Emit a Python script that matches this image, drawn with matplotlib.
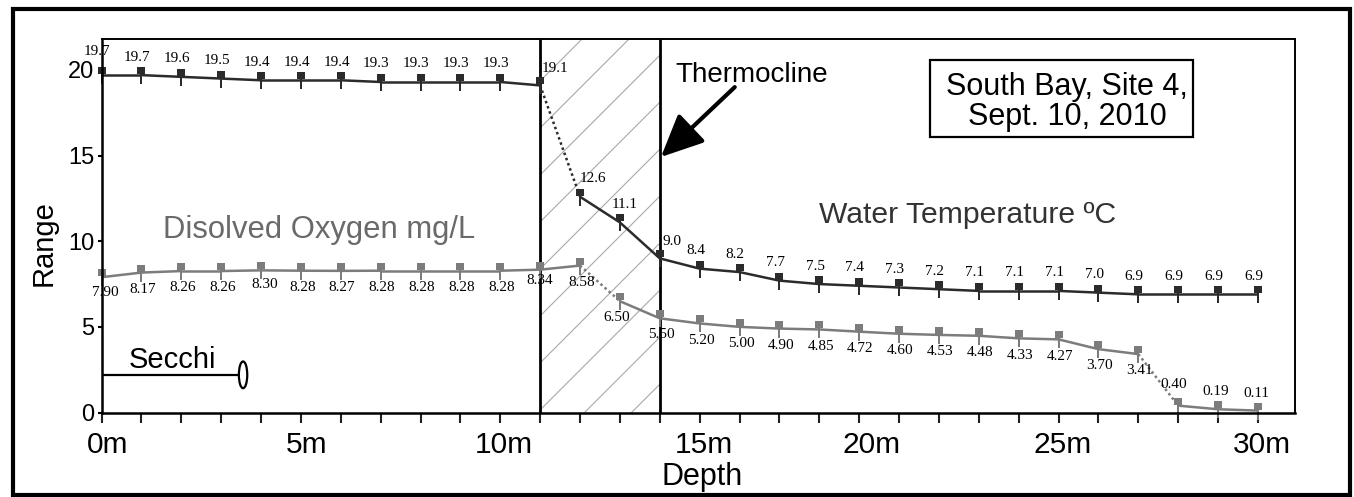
import numpy as np
import matplotlib
matplotlib.use("Agg")
import matplotlib.pyplot as plt
from matplotlib.path import Path
from matplotlib.patches import Rectangle, Ellipse, FancyArrowPatch

# ---------------- data ----------------
depth_m = [0, 1, 2, 3, 4, 5, 6, 7, 8, 9, 10, 11, 12, 13, 14,
           15, 16, 17, 18, 19, 20, 21, 22, 23, 24, 25, 26, 27, 28, 29]
water_temp_c = [19.7, 19.7, 19.6, 19.5, 19.4, 19.4, 19.4, 19.3, 19.3, 19.3,
                19.3, 19.1, 12.6, 11.1, 9.0, 8.4, 8.2, 7.7, 7.5, 7.4,
                7.3, 7.2, 7.1, 7.1, 7.1, 7.0, 6.9, 6.9, 6.9, 6.9]
temp_labels = ["19.7", "19.7", "19.6", "19.5", "19.4", "19.4", "19.4", "19.3", "19.3", "19.3",
               "19.3", "19.1", "12.6", "11.1", "9.0", "8.4", "8.2", "7.7", "7.5", "7.4",
               "7.3", "7.2", "7.1", "7.1", "7.1", "7.0", "6.9", "6.9", "6.9", "6.9"]
dissolved_oxygen = [7.90, 8.17, 8.26, 8.26, 8.30, 8.28, 8.27, 8.28, 8.28, 8.28,
                    8.28, 8.34, 8.58, 6.50, 5.50, 5.20, 5.00, 4.90, 4.85, 4.72,
                    4.60, 4.53, 4.48, 4.33, 4.27, 3.70, 3.41, 0.40, 0.19, 0.11]
do_labels = ["7.90", "8.17", "8.26", "8.26", "8.30", "8.28", "8.27", "8.28", "8.28", "8.28",
             "8.28", "8.34", "8.58", "6.50", "5.50", "5.20", "5.00", "4.90", "4.85", "4.72",
             "4.60", "4.53", "4.48", "4.33", "4.27", "3.70", "3.41", "0.40", "0.19", "0.11"]
thermocline_start = 11
thermocline_end = 14
secchi_depth = 3.55
x_tick_labels = ["0m", "5m", "10m", "15m", "20m", "25m", "30m"]
x_tick_label_pos = [0.15, 5.15, 10.1, 15.1, 19.3, 24.1, 29.1]
y_ticks = [0, 5, 10, 15, 20]

# ---------------- style ----------------
SANS = "Liberation Sans"
SERIF = "Liberation Serif"
TEMP_COLOR = "#2b2b2b"
DO_COLOR = "#7c7c7c"
W, H = 1354, 497

temp_dotted = {11}
do_dotted = {12, 26}
light_ticks = {0, 2, 4, 5, 7, 9, 11, 13, 16, 18, 21, 23, 26, 28}

# label offsets in points (dx, dy)
temp_default_off = (-3, 13)
temp_off = {0: (-3, 17), 11: (11, 12), 12: (9, 13), 13: (3.5, 13), 14: (9, 12)}
do_default_off = (1, -12)
do_off = {0: (2.5, -11), 4: (3, -10.5), 11: (0, -8), 13: (-2, -12),
          27: (-3, 15), 28: (-2, 12.5), 29: (-1, 12.5)}

# T-shaped marker (cap above the point, stem below)
t_verts = [(-3.8, 6.5), (3.8, 6.5), (3.8, 1), (1.1, 1), (1.1, -8), (-1.1, -8), (-1.1, 1), (-3.8, 1), (-3.8, 6.5)]
t_codes = [Path.MOVETO] + [Path.LINETO] * 7 + [Path.CLOSEPOLY]
t_marker = Path(t_verts, t_codes)

fig = plt.figure(figsize=(W / 100, H / 100), dpi=100)
ax_left, ax_right, ax_top, ax_bottom = 101.5, 1295, 39, 412.5
ax = fig.add_axes([ax_left / W, 1 - ax_bottom / H, (ax_right - ax_left) / W, (ax_bottom - ax_top) / H])
xmin, xmax, ymin, ymax = 0, 29.93, 0, 21.81
ax.set_xlim(xmin, xmax)
ax.set_ylim(ymin, ymax)

# outer frame
fig.patches.append(Rectangle((13 / W, 1 - 495 / H), (1350 - 13) / W, (495 - 9) / H,
                             transform=fig.transFigure, fill=False, edgecolor="black",
                             linewidth=3, zorder=0))

# thermocline band with hatching
span = ax.axvspan(thermocline_start, thermocline_end, facecolor="none", edgecolor="none", zorder=0)
px_per_x = (ax_right - ax_left) / (xmax - xmin)
px_per_y = (ax_bottom - ax_top) / (ymax - ymin)
slope = px_per_x / px_per_y
step = 47 / px_per_y
width = thermocline_end - thermocline_start
hx = np.array([thermocline_start, thermocline_end])
for c in np.arange(-slope * width - step * 0.4, ymax + step, step):
    ln, = ax.plot(hx, c + slope * (hx - thermocline_start), color="#a8a8a8", lw=0.8, zorder=0.5)
    ln.set_clip_path(span)
for xv in (thermocline_start, thermocline_end):
    ax.axvline(xv, color="black", lw=2, zorder=2)

# series lines
def draw_series(y, color, dotted):
    for i in range(len(depth_m) - 1):
        ls = (0, (1, 1.2)) if i in dotted else "-"
        ax.plot(depth_m[i:i + 2], y[i:i + 2], color=color, lw=1.8, ls=ls, zorder=3,
                solid_capstyle="butt")
    ax.plot(depth_m, y, ls="none", marker=t_marker, markersize=13.5, markeredgewidth=0,
            color=color, zorder=4, clip_on=False)

draw_series(water_temp_c, TEMP_COLOR, temp_dotted)
draw_series(dissolved_oxygen, DO_COLOR, do_dotted)

for i, (x, y, s) in enumerate(zip(depth_m, water_temp_c, temp_labels)):
    off = temp_off.get(i, temp_default_off)
    ax.annotate(s, (x, y), xytext=off, textcoords="offset points", ha="center", va="center",
                fontsize=11, family=SERIF, color="black", zorder=6, annotation_clip=False)
for i, (x, y, s) in enumerate(zip(depth_m, dissolved_oxygen, do_labels)):
    off = do_off.get(i, do_default_off)
    ax.annotate(s, (x, y), xytext=off, textcoords="offset points", ha="center", va="center",
                fontsize=11, family=SERIF, color="black", zorder=6, annotation_clip=False)

# Secchi
secchi_y = 2.2
ax.plot([0, secchi_depth - 0.1], [secchi_y, secchi_y], color="black", lw=1.6, zorder=3)
ax.add_patch(Ellipse((secchi_depth, secchi_y), width=0.21, height=1.56, facecolor="white",
                     edgecolor="black", lw=1.6, zorder=4))
ax.text(1.77, 2.6, "Secchi", fontsize=21, family=SANS, ha="center", va="baseline", color="black")

# series names
ax.text(5.45, 10.19, "Disolved Oxygen mg/L", fontsize=22.3, family=SANS, ha="center",
        va="baseline", color="#6a6a6a")
ax.text(21.73, 11.07, "Water Temperature ºC", fontsize=21.7, family=SANS, ha="center",
        va="baseline", color="#333333")

# Thermocline annotation
ax.text(16.30, 19.32, "Thermocline", fontsize=20, family=SANS, ha="center", va="baseline",
        color="black")
arrow = FancyArrowPatch((15.88, 19.0), (14.03, 14.92), arrowstyle="-|>,head_length=1.3,head_width=0.6",
                        mutation_scale=20, color="black", lw=3, zorder=5, shrinkA=0, shrinkB=0)
ax.add_patch(arrow)

# site box
ax.add_patch(Rectangle((20.77, 16.09), 27.37 - 20.77, 20.58 - 16.09, fill=False,
                       edgecolor="black", lw=1.6, zorder=5))
ax.text(24.21, 18.54, "South Bay, Site 4,", fontsize=22, family=SANS, ha="center", va="baseline")
ax.text(24.21, 16.79, "Sept. 10, 2010", fontsize=22, family=SANS, ha="center", va="baseline")

# axes styling
for side in ("left", "bottom"):
    ax.spines[side].set_linewidth(1.8)
for side in ("top", "right"):
    ax.spines[side].set_linewidth(1.4)
for sp in ax.spines.values():
    sp.set_zorder(5)

ax.set_xticks(depth_m)
ax.set_xticklabels([])
ax.tick_params(axis="x", which="major", direction="out", length=7, width=1.5, color="#222222")
for i, t in enumerate(ax.xaxis.get_major_ticks()):
    if i in light_ticks:
        t.tick1line.set_color("#d0d0d0")
ax.set_xticks(x_tick_label_pos, minor=True)
ax.set_xticklabels(x_tick_labels, minor=True, fontsize=21.5, family=SANS)
ax.tick_params(axis="x", which="minor", length=0, pad=13)

ax.set_yticks(y_ticks)
ax.set_yticklabels([str(v) for v in y_ticks], fontsize=17, family=SANS)
ax.tick_params(axis="y", direction="out", length=3, width=1.5, pad=2)

ax.set_xlabel("Depth", fontsize=22, family=SANS, va="baseline")
ax.xaxis.set_label_coords((702 - ax_left) / (ax_right - ax_left), (ax_bottom - 485) / (ax_bottom - ax_top))
ax.set_ylabel("Range", fontsize=21, family=SANS)
ax.yaxis.set_label_coords((58 - ax_left) / (ax_right - ax_left), (ax_bottom - 243.5) / (ax_bottom - ax_top))

fig.savefig("out.png", dpi=100)
